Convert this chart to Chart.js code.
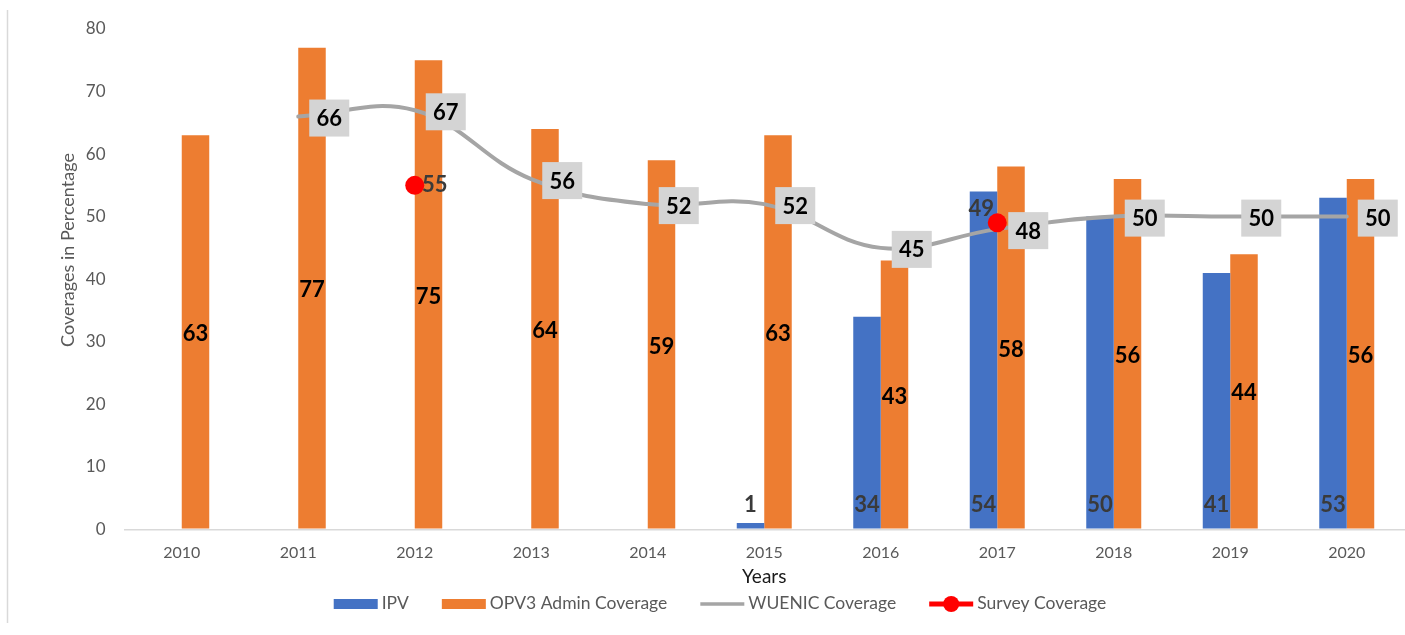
<!DOCTYPE html>
<html>
<head>
<meta charset="utf-8">
<title>IPV and OPV3 coverage 2010-2020</title>
<script src="https://cdn.jsdelivr.net/npm/chart.js@4.4.1/dist/chart.umd.min.js"></script>
<style>
  html, body { margin: 0; padding: 0; background: #ffffff; }
  #wrap { width: 1405px; height: 635px; position: relative; }
</style>
</head>
<body>
<div id="wrap"><canvas id="chart" width="1405" height="635"></canvas></div>
<script>
// ---- data ----
const years = ['2010', '2011', '2012', '2013', '2014', '2015', '2016', '2017', '2018', '2019', '2020'];
const ipv = [null, null, null, null, null, 1, 34, 54, 50, 41, 53];
const opv3Admin = [63, 77, 75, 64, 59, 63, 43, 58, 56, 44, 56];
const wuenic = [null, 66, 67, 56, 52, 52, 45, 48, 50, 50, 50];
const survey = [null, null, 55, null, null, null, null, 49, null, null, null];
const yTicks = [0, 10, 20, 30, 40, 50, 60, 70, 80];

const seriesNames = ['IPV', 'OPV3 Admin Coverage', 'WUENIC Coverage', 'Survey Coverage'];
const yTitle = 'Coverages in Percentage';
const xTitle = 'Years';

// ---- look ----
const BLUE = '#4472C4';
const ORANGE = '#ED7D31';
const GREY = '#A5A5A5';
const RED = '#FF0000';
const AXIS_TEXT = '#595959';
const FONT = 'Lato, "Open Sans", sans-serif';

// survey labels sit to the right of the dot, except where another mark is in the way
const surveyLabelSide = { '2017': 'upperLeft' };

// value labels for all series
const valueLabels = {
  id: 'valueLabels',
  afterDatasetsDraw(chart) {
    const ctx = chart.ctx;
    ctx.save();
    ctx.font = 'bold 22px ' + FONT;
    ctx.textAlign = 'center';
    ctx.textBaseline = 'middle';

    // IPV: near the base of the bar
    chart.getDatasetMeta(0).data.forEach((bar, i) => {
      if (ipv[i] == null) return;
      ctx.fillStyle = '#3A3A3A';
      ctx.fillText(String(ipv[i]), bar.x, bar.base - 24);
    });

    // OPV3: centred in the bar
    chart.getDatasetMeta(1).data.forEach((bar, i) => {
      if (opv3Admin[i] == null) return;
      ctx.fillStyle = '#000000';
      ctx.fillText(String(opv3Admin[i]), bar.x, (bar.y + bar.base) / 2 + 2);
    });

    // WUENIC: grey tag to the right of each point
    const bw = 40, bh = 37;
    chart.getDatasetMeta(2).data.forEach((pt, i) => {
      if (wuenic[i] == null) return;
      const x0 = pt.x + 11;
      const yc = pt.y + 1.5;
      ctx.fillStyle = '#D4D4D4';
      ctx.fillRect(x0, yc - bh / 2, bw, bh);
      ctx.fillStyle = '#000000';
      ctx.fillText(String(wuenic[i]), x0 + bw / 2, yc + 1);
    });

    // Survey
    chart.getDatasetMeta(3).data.forEach((pt, i) => {
      if (survey[i] == null) return;
      ctx.fillStyle = '#3A3A3A';
      if (surveyLabelSide[years[i]] === 'upperLeft') {
        ctx.fillText(String(survey[i]), pt.x - 16, pt.y - 14);
      } else {
        ctx.fillText(String(survey[i]), pt.x + 20, pt.y);
      }
    });
    ctx.restore();
  }
};

// frame line, rotated y title and the key under the axis
const decorations = {
  id: 'decorations',
  beforeDraw(chart) {
    const ctx = chart.ctx;
    ctx.save();
    ctx.fillStyle = '#ffffff';
    ctx.fillRect(0, 0, chart.width, chart.height);
    ctx.strokeStyle = '#D9D9D9';
    ctx.lineWidth = 1.5;
    ctx.beginPath();
    ctx.moveTo(7.5, 10);
    ctx.lineTo(7.5, 623);
    ctx.stroke();
    ctx.restore();
  },
  afterDraw(chart) {
    const ctx = chart.ctx;
    ctx.save();
    // y title
    ctx.translate(68, 250);
    ctx.rotate(-Math.PI / 2);
    ctx.font = '18px ' + FONT;
    ctx.fillStyle = AXIS_TEXT;
    ctx.textAlign = 'center';
    ctx.textBaseline = 'middle';
    ctx.fillText(yTitle, 0, 0);
    ctx.restore();

    // key
    ctx.save();
    ctx.font = '17.5px ' + FONT;
    ctx.textBaseline = 'middle';
    ctx.textAlign = 'left';
    const markW = 44, textGap = 4, itemGap = 33;
    const widths = seriesNames.map(n => markW + textGap + ctx.measureText(n).width);
    const total = widths.reduce((a, b) => a + b, 0) + itemGap * (widths.length - 1);
    let x = 720 - total / 2;
    const y = 604;
    seriesNames.forEach((name, k) => {
      if (k === 0 || k === 1) {
        ctx.fillStyle = k === 0 ? BLUE : ORANGE;
        ctx.fillRect(x, y - 5, markW, 10);
      } else if (k === 2) {
        ctx.strokeStyle = GREY;
        ctx.lineWidth = 3.5;
        ctx.beginPath(); ctx.moveTo(x, y); ctx.lineTo(x + markW, y); ctx.stroke();
      } else {
        ctx.strokeStyle = RED;
        ctx.lineWidth = 5;
        ctx.beginPath(); ctx.moveTo(x, y); ctx.lineTo(x + markW, y); ctx.stroke();
        ctx.fillStyle = RED;
        ctx.beginPath(); ctx.arc(x + markW / 2, y, 8, 0, Math.PI * 2); ctx.fill();
      }
      ctx.fillStyle = AXIS_TEXT;
      ctx.fillText(name, x + markW + textGap, y - 1);
      x += widths[k] + itemGap;
    });
    ctx.restore();
  }
};

new Chart(document.getElementById('chart'), {
  data: {
    labels: years,
    datasets: [
      { type: 'bar', label: seriesNames[0], data: ipv, backgroundColor: BLUE, order: 3,
        categoryPercentage: 0.472, barPercentage: 1.0 },
      { type: 'bar', label: seriesNames[1], data: opv3Admin, backgroundColor: ORANGE, order: 3,
        categoryPercentage: 0.472, barPercentage: 1.0 },
      { type: 'line', label: seriesNames[2], data: wuenic, borderColor: GREY, borderWidth: 4,
        tension: 0.4, pointRadius: 0, spanGaps: false, order: 1, borderCapStyle: 'round' },
      { type: 'line', label: seriesNames[3], data: survey, showLine: false, pointRadius: 9.5,
        pointBackgroundColor: RED, pointBorderWidth: 0, pointBorderColor: RED, order: 0 }
    ]
  },
  options: {
    responsive: false,
    devicePixelRatio: 1,
    animation: false,
    layout: { autoPadding: false, padding: { top: 29, right: 0, bottom: 46.7, left: 0 } },
    plugins: {
      legend: { display: false },
      tooltip: { enabled: false },
      title: { display: false }
    },
    scales: {
      x: {
        grid: { display: false, drawTicks: false },
        border: { display: false },
        ticks: { color: AXIS_TEXT, font: { family: FONT, size: 16 }, padding: 14, maxRotation: 0 },
        title: { display: true, text: xTitle, color: '#1a1a1a',
                 font: { family: FONT, size: 19 }, padding: { top: -11, bottom: 0 } }
      },
      y: {
        min: 0,
        max: 80,
        afterBuildTicks: s => { s.ticks = yTicks.map(v => ({ value: v })); },
        afterFit: s => { s.width = 123.5; },
        grid: {
          color: c => (c.tick && c.tick.value === 0) ? '#D9D9D9' : 'rgba(0,0,0,0)',
          lineWidth: 1.5,
          drawTicks: false
        },
        border: { display: false },
        ticks: { color: AXIS_TEXT, font: { family: FONT, size: 17 }, padding: 18 }
      }
    }
  },
  plugins: [decorations, valueLabels]
});
</script>
</body>
</html>
